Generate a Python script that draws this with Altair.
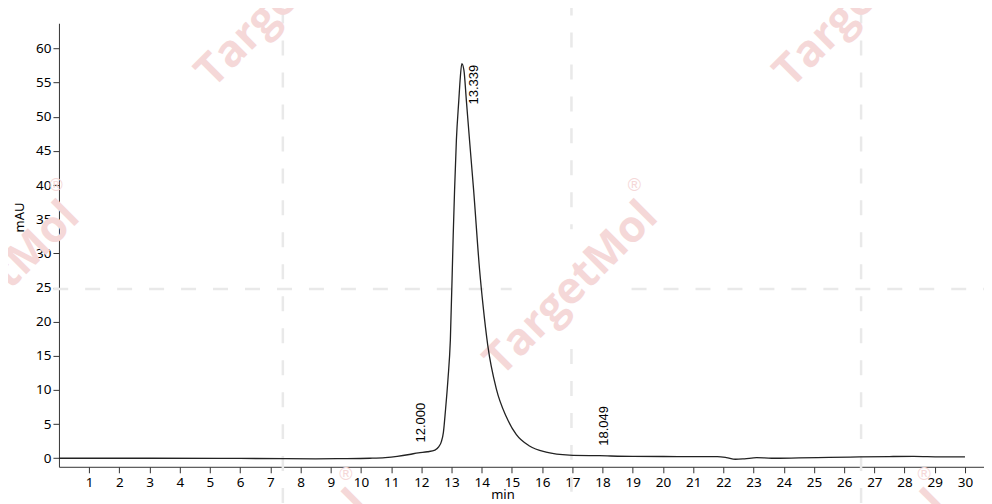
import altair as alt
import pandas as pd

# chromatogram trace (min, mAU)
times = [0, 3, 6, 7.5, 8.5, 9.5, 10.3, 10.8, 11.2, 11.6, 11.9, 12.2, 12.45, 12.58,
         12.66, 12.73, 12.8, 12.88, 12.96, 13.05, 13.1, 13.16, 13.24, 13.29, 13.34,
         13.41, 13.49, 13.6, 13.73, 13.93, 14.04, 14.2, 14.48, 14.81, 15.14, 15.58,
         16.13, 16.9, 17.9, 19.0, 20.5, 21.8, 22.1, 22.4, 22.7, 23.1, 23.6, 24.5,
         25.5, 26.5, 27.5, 28.3, 29.2, 30.0]
signal = [0.0, 0.0, -0.03, -0.05, -0.08, -0.06, 0.0, 0.1, 0.28, 0.55, 0.8, 0.95, 1.2, 1.7,
          2.4, 3.8, 7.1, 11.5, 17.3, 31.9, 39.3, 46.6, 52.4, 55.8, 57.8,
          56.8, 52.4, 46.3, 39.3, 27.5, 22.5, 16.5, 10.2, 6.1, 3.5, 1.8,
          0.9, 0.46, 0.37, 0.27, 0.25, 0.24, 0.1, -0.15, -0.08, 0.08, 0.0, 0.05,
          0.12, 0.2, 0.25, 0.27, 0.2, 0.2]

# annotated peaks
peak_rt = [12.000, 18.049]
peak_h = [0.85, 0.37]
main_rt = [13.339]
main_h = [57.8]

x_ticks = list(range(1, 31))
y_ticks = list(range(0, 61, 5))

# watermark tile (data units)
wm_text_x = [7.414, 16.97, 26.56, -2.18, 7.414, 26.56]
wm_text_y = [67.0, 24.78, 67.0, 24.78, -17.5, -17.5]
vline_x = [7.414, 16.97, 16.97, 26.56]
vline_y1 = [65.85, 67.03, 16.0, 65.85]
vline_y2 = [-6.65, 33.55, -6.65, -6.65]
hline_y = [24.78, 24.78]
hline_x1 = [-0.19, 18.96]
hline_x2 = [14.99, 30.86]

trace = pd.DataFrame({"t": times, "v": signal})
peaks = pd.DataFrame({"t": peak_rt, "v": peak_h, "lab": [f"{r:.3f}" for r in peak_rt]})
main = pd.DataFrame({"t": main_rt, "v": main_h, "lab": [f"{r:.3f}" for r in main_rt]})
wm = pd.DataFrame({"t": wm_text_x, "v": wm_text_y})
vl = pd.DataFrame({"t": vline_x, "v1": vline_y1, "v2": vline_y2})
hl = pd.DataFrame({"v": hline_y, "t1": hline_x1, "t2": hline_x2})

wm_color = "#f5d8d8"
dash_color = "#e9e9e9"

x_axis = alt.Axis(values=x_ticks, grid=False, tickSize=6, labelFontSize=13.5, labelPadding=3,
                  labelOverlap=False, labelFlush=False,
                  titleFontSize=13, titleFontWeight="normal", titleX=444, titleY=22)
y_axis = alt.Axis(values=y_ticks, grid=False, tickSize=6, labelFontSize=13.5, labelPadding=2,
                  labelOverlap=False, labelFlush=False,
                  titleFontSize=13, titleFontWeight="normal", titleX=-39, titleY=194,
                  titleAngle=270, titleBaseline="middle")
xs = alt.Scale(domain=[0, 30.63], nice=False, zero=False)
ys = alt.Scale(domain=[-1.25, 63.7], nice=False, zero=False)


def X(field):
    return alt.X(field, scale=xs, title="min", axis=x_axis)


def Y(field):
    return alt.Y(field, scale=ys, title="mAU", axis=y_axis)


vlines = alt.Chart(vl).mark_rule(color=dash_color, strokeWidth=2.5, strokeDash=[15, 17], clip=False).encode(
    x=X("t:Q"), y=Y("v1:Q"), y2="v2:Q"
)
hlines = alt.Chart(hl).mark_rule(color=dash_color, strokeWidth=2.5, strokeDash=[15, 17], clip=False).encode(
    x=X("t1:Q"), x2="t2:Q", y=Y("v:Q")
)
wm_text = alt.Chart(wm).mark_text(
    text="TargetMol", angle=315, fontSize=44, fontWeight="bold", font="Open Sans",
    color=wm_color, align="center", baseline="middle", clip=False
).encode(x=X("t:Q"), y=Y("v:Q"))
wm_reg = alt.Chart(wm).mark_text(
    text="®", fontSize=18, color=wm_color, dx=63, dy=-103, clip=False
).encode(x=X("t:Q"), y=Y("v:Q"))

line = alt.Chart(trace).mark_line(color="#222222", strokeWidth=1.3, interpolate="monotone").encode(
    x=X("t:Q"), y=Y("v:Q")
)

peak_labels = alt.Chart(peaks).mark_text(
    angle=270, align="left", baseline="middle", fontSize=13, dx=10, color="black"
).encode(x=X("t:Q"), y=Y("v:Q"), text="lab:N")
main_label = alt.Chart(main).mark_text(
    angle=270, align="left", baseline="middle", fontSize=13, dx=-41, dy=12, color="black"
).encode(x=X("t:Q"), y=Y("v:Q"), text="lab:N")

chart = alt.layer(vlines, hlines, wm_text, wm_reg, line, peak_labels, main_label).properties(
    width=926, height=444,
    autosize=alt.AutoSizeParams(type="none"),
    padding={"left": 51, "top": 15, "right": 0, "bottom": 37},
).configure_view(stroke=None).configure_axis(
    domainColor="#333333", tickColor="#333333", labelColor="black", titleColor="black",
    labelFont="Noto Sans", titleFont="Noto Sans", labelOverlap=False
)

chart.save("out.html", embed_options={"renderer": "svg", "actions": False})
